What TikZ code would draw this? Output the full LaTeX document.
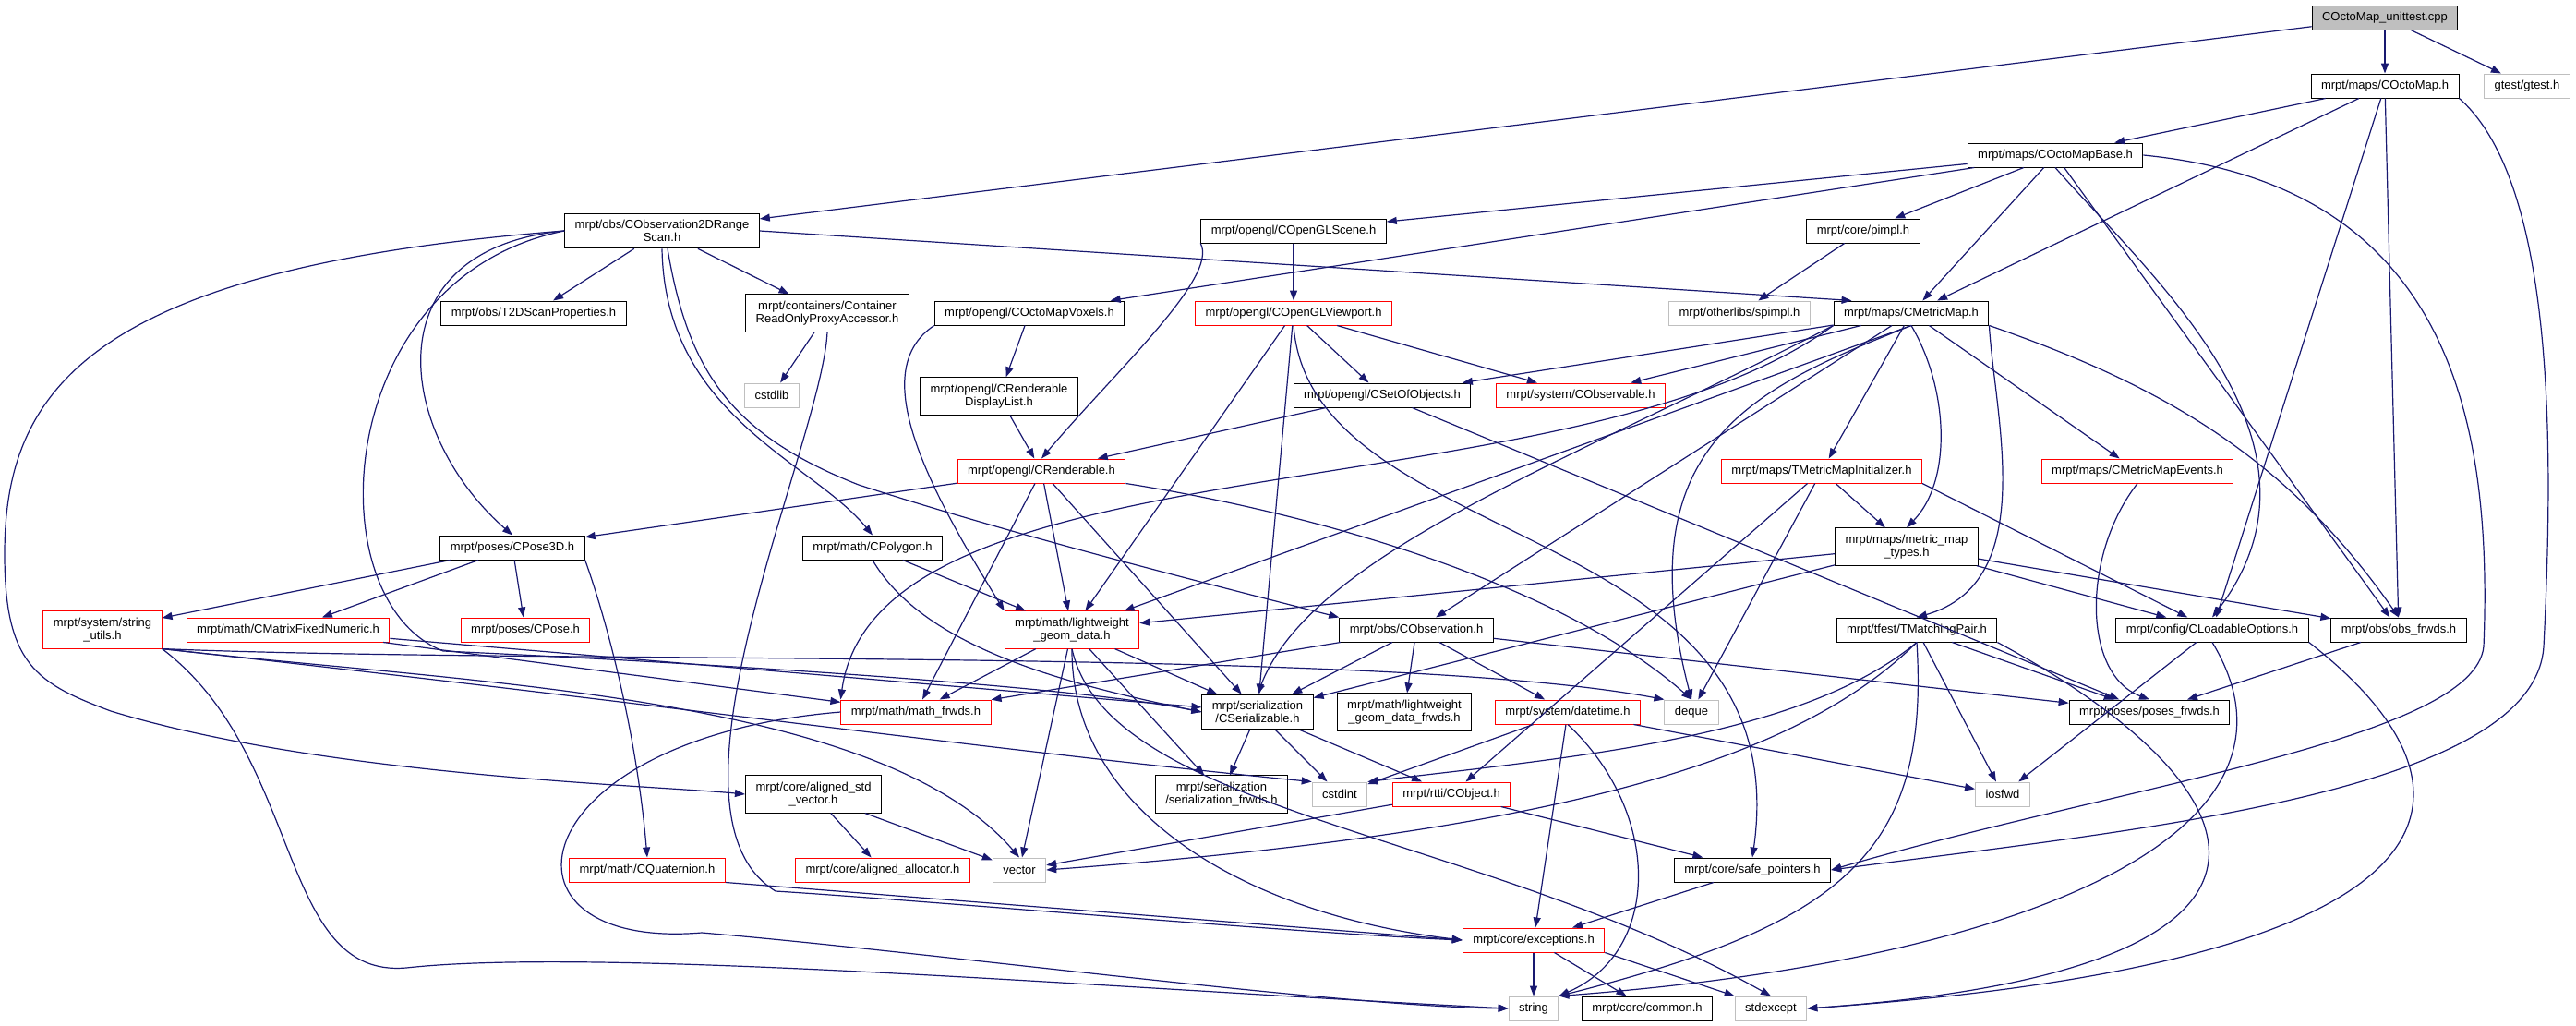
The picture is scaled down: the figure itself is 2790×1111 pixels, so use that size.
\documentclass[tikz,border=0pt]{standalone}
\usepackage{fontspec}
\setmainfont{Liberation Sans}
\usetikzlibrary{arrows.meta}
\definecolor{edgeblue}{HTML}{191970}
\definecolor{grey75}{HTML}{BFBFBF}
\definecolor{truncred}{HTML}{FF0000}

\begin{document}
\begin{tikzpicture}[x=1pt, y=-1pt,
    hdr/.style={draw=black, line width=1pt, fill=white, align=center,
      font={\fontsize{13}{14.5}\selectfont}, inner xsep=11pt, inner ysep=6.8pt, minimum height=26pt},
    trunc/.style={hdr, draw=truncred},
    ext/.style={hdr, draw=grey75},
    root/.style={hdr, fill=grey75},
    dep/.style={draw=edgeblue, color=edgeblue, line width=1.2pt, -{Triangle[length=11pt,width=8pt]}}]
    \useasboundingbox (0,0) rectangle (2790,1111);

    \node [root] (uts) at (2583,19) {COctoMap\_unittest.cpp};
    \node [hdr] (octomap) at (2583,93) {mrpt/maps/COctoMap.h};
    \node [ext] (gtest) at (2737,93) {gtest/gtest.h};
    \node [hdr] (octobase) at (2226,168) {mrpt/maps/COctoMapBase.h};
    \node [hdr] (scan) at (717,250) {mrpt/obs/CObservation2DRange\\Scan.h};
    \node [hdr] (glscene) at (1401,250) {mrpt/opengl/COpenGLScene.h};
    \node [hdr] (pimpl) at (2018,250) {mrpt/core/pimpl.h};
    \node [hdr] (scanprops) at (578,339) {mrpt/obs/T2DScanProperties.h};
    \node [hdr] (proxy) at (896,339) {mrpt/containers/Container\\ReadOnlyProxyAccessor.h};
    \node [hdr] (voxels) at (1115,339) {mrpt/opengl/COctoMapVoxels.h};
    \node [trunc] (viewport) at (1401,339) {mrpt/opengl/COpenGLViewport.h};
    \node [ext] (spimpl) at (1884,339) {mrpt/otherlibs/spimpl.h};
    \node [hdr] (metricmap) at (2070,339) {mrpt/maps/CMetricMap.h};
    \node [ext] (cstdlib) at (836,428) {cstdlib};
    \node [hdr] (displist) at (1082,429) {mrpt/opengl/CRenderable\\DisplayList.h};
    \node [hdr] (setobj) at (1497,428) {mrpt/opengl/CSetOfObjects.h};
    \node [trunc] (observable) at (1712,428) {mrpt/system/CObservable.h};
    \node [trunc] (renderable) at (1128,510) {mrpt/opengl/CRenderable.h};
    \node [trunc] (mapinit) at (1973,510) {mrpt/maps/TMetricMapInitializer.h};
    \node [trunc] (mapevents) at (2315,510) {mrpt/maps/CMetricMapEvents.h};
    \node [hdr] (pose3d) at (555,593) {mrpt/poses/CPose3D.h};
    \node [hdr] (polygon) at (945,593) {mrpt/math/CPolygon.h};
    \node [hdr] (maptypes) at (2065,592) {mrpt/maps/metric\_map\\\_types.h};
    \node [trunc] (strutils) at (111,682) {mrpt/system/string\\\_utils.h};
    \node [trunc] (matfixed) at (312,682) {mrpt/math/CMatrixFixedNumeric.h};
    \node [trunc] (pose) at (569,682) {mrpt/poses/CPose.h};
    \node [trunc] (geomdata) at (1161,682) {mrpt/math/lightweight\\\_geom\_data.h};
    \node [hdr] (observation) at (1534,682) {mrpt/obs/CObservation.h};
    \node [hdr] (matchpair) at (2076,682) {mrpt/tfest/TMatchingPair.h};
    \node [hdr] (loadopts) at (2396,682) {mrpt/config/CLoadableOptions.h};
    \node [hdr] (obsfrwds) at (2598,682) {mrpt/obs/obs\_frwds.h};
    \node [trunc] (mathfrwds) at (992,771) {mrpt/math/math\_frwds.h};
    \node [hdr] (serial) at (1362,771) {mrpt/serialization\\/CSerializable.h};
    \node [hdr] (geomfrwds) at (1521,771) {mrpt/math/lightweight\\\_geom\_data\_frwds.h};
    \node [trunc] (datetime) at (1698,771) {mrpt/system/datetime.h};
    \node [ext] (deque) at (1832,771) {deque};
    \node [hdr] (posesfrwds) at (2328,771) {mrpt/poses/poses\_frwds.h};
    \node [hdr] (alignvec) at (881,860) {mrpt/core/aligned\_std\\\_vector.h};
    \node [hdr] (serfrwds) at (1323,860) {mrpt/serialization\\/serialization\_frwds.h};
    \node [ext] (cstdint) at (1451,860) {cstdint};
    \node [trunc] (object) at (1572,860) {mrpt/rtti/CObject.h};
    \node [ext] (iosfwd) at (2169,860) {iosfwd};
    \node [trunc] (quaternion) at (701,942) {mrpt/math/CQuaternion.h};
    \node [trunc] (alignalloc) at (956,942) {mrpt/core/aligned\_allocator.h};
    \node [ext] (vector) at (1104,942) {vector};
    \node [hdr] (safeptr) at (1898,942) {mrpt/core/safe\_pointers.h};
    \node [trunc] (exceptions) at (1661,1018) {mrpt/core/exceptions.h};
    \node [ext] (string) at (1661,1092) {string};
    \node [hdr] (common) at (1784,1092) {mrpt/core/common.h};
    \node [ext] (stdexcept) at (1918,1092) {stdexcept};

    \path [dep] (uts) edge (scan) edge (octomap) edge (gtest);
    \path [dep] (octomap) edge (octobase) edge (metricmap) edge (loadopts) edge (obsfrwds);
    \draw [dep] (octomap.south east) .. controls (2770,200) and (2765,500) .. (2755,700) .. controls (2745,860) and (2300,900) .. (safeptr.east);
    \path [dep] (octobase) edge (glscene) edge (voxels) edge (pimpl) edge (metricmap) edge (obsfrwds);
    \draw [dep] (octobase.south) .. controls (2330,300) and (2540,480) .. (loadopts.north);
    \draw [dep] (octobase.east) .. controls (2650,200) and (2700,450) .. (2690,700) .. controls (2680,800) and (2300,850) .. (safeptr.east);

    \path [dep] (scan) edge (scanprops) edge (proxy);
    \draw [dep] (scan.east) -- ([xshift=20pt]metricmap.north west);
    \draw [dep] (scan.west) .. controls (100,290) and (5,420) .. (5,600) .. controls (5,720) and (40,740) .. (120,770) .. controls (350,840) and (700,850) .. (alignvec.west);
    \draw [dep] (scan.west) .. controls (400,270) and (430,470) .. (pose3d.north);
    \draw [dep] (scan.west) .. controls (360,300) and (340,650) .. (480,705) .. controls (700,715) and (1150,740) .. (serial.west);
    \draw [dep] (scan.south) .. controls (720,450) and (880,500) .. (polygon.north);
    \draw [dep] ([xshift=6pt]scan.south) .. controls (745,400) and (790,470) .. (930,525) .. controls (1100,580) and (1300,630) .. (observation.north west);

    \path [dep] (glscene) edge (viewport);
    \draw [dep] (glscene.south west) .. controls (1320,300) and (1210,400) .. (renderable.north);
    \path [dep] (pimpl) edge (spimpl);
    \path [dep] (proxy) edge (cstdlib);
    \draw [dep] (proxy.south) .. controls (890,480) and (700,880) .. (840,965) .. controls (1000,975) and (1400,1010) .. (exceptions.west);
    \path [dep] (voxels) edge (displist);
    \draw [dep] (voxels.south west) .. controls (940,400) and (1000,520) .. (geomdata.north west);
    \path [dep] (viewport) edge (setobj) edge (observable) edge (geomdata) edge (serial);
    \draw [dep] (viewport.south) .. controls (1420,600) and (1950,560) .. (safeptr.north);

    \path [dep] (metricmap) edge (setobj) edge (observable) edge (observation) edge (mapinit) edge (mapevents);
    \draw [dep] (metricmap.south) -- (geomdata);
    \draw [dep] (metricmap.south west) .. controls (1700,560) and (950,470) .. (mathfrwds.north west);
    \draw [dep] (metricmap.south west) .. controls (1700,500) and (1420,600) .. (serial.north);
    \draw [dep] (metricmap.south) .. controls (1900,420) and (1760,480) .. (deque.north);
    \draw [dep] (metricmap.south) .. controls (2110,420) and (2115,520) .. (maptypes.north);
    \draw [dep] (metricmap.south east) .. controls (2160,450) and (2210,630) .. (matchpair.north);
    \draw [dep] (metricmap.south east) .. controls (2350,420) and (2480,500) .. (obsfrwds.north);

    \path [dep] (displist) edge (renderable);
    \path [dep] (setobj) edge (renderable) edge (posesfrwds);
    \path [dep] (renderable) edge (pose3d) edge (mathfrwds) edge (geomdata) edge (serial);
    \draw [dep] (renderable.south east) .. controls (1450,560) and (1700,640) .. (deque.north);
    \path [dep] (mapinit) edge (maptypes) edge (deque) edge (object);
    \draw [dep] (mapinit.south east) -- (loadopts);
    \draw [dep] (mapevents.south) .. controls (2255,600) and (2255,730) .. (posesfrwds.north);

    \path [dep] (pose3d) edge (strutils) edge (matfixed) edge (pose);
    \draw [dep] (pose3d.south east) .. controls (660,680) and (690,800) .. (quaternion.north);
    \path [dep] (polygon) edge (geomdata);
    \draw [dep] (polygon.south) .. controls (1000,700) and (1150,740) .. (serial.west);
    \path [dep] (maptypes) edge (geomdata) edge (serial) edge (loadopts) edge (obsfrwds);

    \draw [dep] (strutils.south east) .. controls (330,820) and (300,1060) .. (440,1048) .. controls (650,1025) and (1200,1070) .. (string.west);
    \draw [dep] (strutils.south east) .. controls (600,720) and (1500,700) .. (deque.north west);
    \draw [dep] (strutils.south east) .. controls (500,740) and (950,750) .. (vector.north);
    \draw [dep] (strutils.south east) .. controls (700,760) and (1050,810) .. (cstdint.north west);
    \path [dep] (matfixed) edge (mathfrwds) edge (serial);

    \path [dep] (geomdata) edge (mathfrwds) edge (vector) edge (serfrwds) edge (serial);
    \draw [dep] (geomdata.south) .. controls (1160,880) and (1350,990) .. (exceptions.west);
    \draw [dep] (geomdata.south) .. controls (1200,880) and (1600,900) .. (stdexcept.north);
    \path [dep] (observation) edge (mathfrwds) edge (serial) edge (geomfrwds) edge (datetime) edge (posesfrwds);

    \path [dep] (matchpair) edge (iosfwd) edge (posesfrwds);
    \draw [dep] (matchpair.south) .. controls (1950,800) and (1700,820) .. (cstdint.north east);
    \draw [dep] (matchpair.south) .. controls (1950,820) and (1700,900) .. (vector.east);
    \draw [dep] (matchpair.south) .. controls (2090,920) and (2000,1000) .. (string.north east);
    \draw [dep] (matchpair.south east) .. controls (2450,850) and (2550,1050) .. (stdexcept.east);
    \path [dep] (loadopts) edge (iosfwd);
    \draw [dep] (loadopts.south) .. controls (2520,900) and (2200,1040) .. (string.north east);
    \draw [dep] (loadopts.south east) .. controls (2700,850) and (2700,1040) .. (stdexcept.east);
    \path [dep] (obsfrwds) edge (posesfrwds);

    \draw [dep] (mathfrwds.west) .. controls (560,800) and (520,1030) .. (760,1010) .. controls (1000,1030) and (1450,1090) .. (string.west);
    \path [dep] (serial) edge (serfrwds) edge (cstdint) edge (object);
    \path [dep] (datetime) edge (cstdint) edge (exceptions) edge (iosfwd);
    \draw [dep] (datetime.south) .. controls (1800,880) and (1800,1030) .. (string.north east);
    \path [dep] (object) edge (vector) edge (safeptr);
    \path [dep] (alignvec) edge (alignalloc) edge (vector);
    \draw [dep] (quaternion.south east) -- (exceptions.west);
    \path [dep] (safeptr) edge (exceptions);
    \path [dep] (exceptions) edge (string) edge (common);
    \draw [dep] (exceptions.south east) -- (stdexcept.north west);
\end{tikzpicture}
\end{document}
